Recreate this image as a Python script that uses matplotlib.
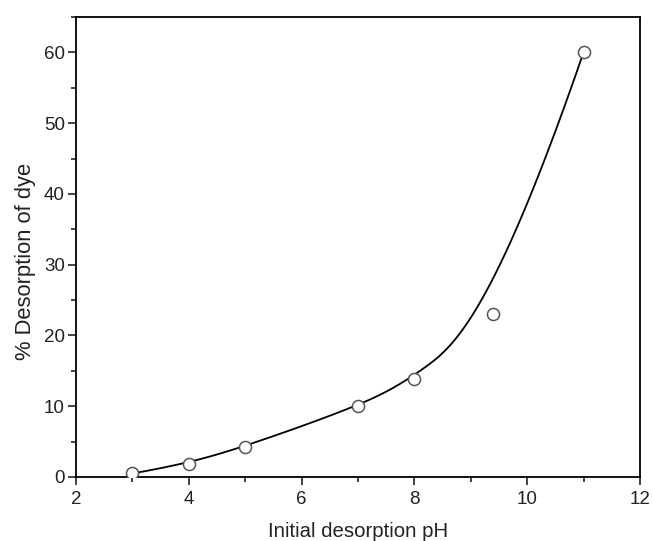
import numpy as np
import matplotlib
matplotlib.use("Agg")
import matplotlib.pyplot as plt
from matplotlib.ticker import MultipleLocator

ph = [3, 4, 5, 7, 8, 9.4, 11]
desorption = [0.5, 1.9, 4.3, 10.0, 13.8, 23.0, 60.0]

plt.rcParams['font.family'] = ['Liberation Sans', 'DejaVu Sans']

x = np.array(ph, dtype=float)
y = np.array(desorption, dtype=float)


def bspline_curve(cx, cy, k=3, num=400):
    """Clamped cubic B-spline using data points as control points."""
    n = len(cx)
    inner = np.arange(1, n - k)
    knots = np.concatenate([np.zeros(k + 1), inner, np.full(k + 1, n - k)]).astype(float)
    t = np.linspace(0, n - k, num)
    t[-1] -= 1e-9

    def basis(i, p, tt):
        if p == 0:
            return ((knots[i] <= tt) & (tt < knots[i + 1])).astype(float)
        out = np.zeros_like(tt)
        d1 = knots[i + p] - knots[i]
        d2 = knots[i + p + 1] - knots[i + 1]
        if d1 > 0:
            out += (tt - knots[i]) / d1 * basis(i, p - 1, tt)
        if d2 > 0:
            out += (knots[i + p + 1] - tt) / d2 * basis(i + 1, p - 1, tt)
        return out

    B = np.array([basis(i, k, t) for i in range(n)])
    return B.T @ cx, B.T @ cy


xf, yf = bspline_curve(x, y)

fig = plt.figure(figsize=(6.53, 5.41), dpi=100)
ax = fig.add_axes([0.1164, 0.1183, 0.8636, 0.8503])
ax.plot(xf, yf, color='black', lw=1.3, zorder=2)
ax.plot(x, y, 'o', ms=8.7, mfc='white', mec='#555555', mew=1.1, zorder=3)

ax.set_xlim(2, 12)
ax.set_ylim(0, 65)
ax.xaxis.set_major_locator(MultipleLocator(2))
ax.xaxis.set_minor_locator(MultipleLocator(1))
ax.yaxis.set_major_locator(MultipleLocator(10))
ax.yaxis.set_minor_locator(MultipleLocator(5))
ax.tick_params(which='both', direction='out', top=False, right=False,
               labelsize=13.5, colors='#222222', width=1.2)
ax.tick_params(axis='x', which='major', length=6, pad=4)
ax.tick_params(axis='x', which='minor', length=3.6)
ax.tick_params(axis='y', which='major', length=5.5, pad=2.5)
ax.tick_params(axis='y', which='minor', length=3.6)
for s in ax.spines.values():
    s.set_linewidth(1.3)

ax.set_xlabel('Initial desorption pH', fontsize=14.7, color='#222222')
ax.set_ylabel('% Desorption of dye', fontsize=15.8, color='#222222')
ax.xaxis.set_label_coords(0.5, -0.1304)
ax.yaxis.set_label_coords(-0.0904, 0.468)
ax.xaxis.label.set_va('baseline')
ax.yaxis.label.set_va('center')

fig.savefig('out.png', dpi=100)
